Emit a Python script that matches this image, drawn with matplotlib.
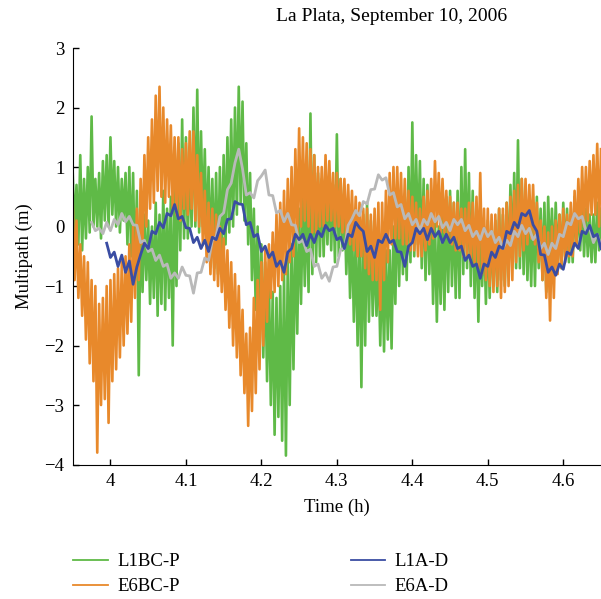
import numpy as np
import matplotlib
matplotlib.use("Agg")
import matplotlib.pyplot as plt
from matplotlib.lines import Line2D

plt.rcParams["font.family"] = ["Liberation Serif", "DejaVu Serif"]

# sample times (h) for the wide-band pseudorange series, 0.0025 h apart
t_band = np.linspace(3.95, 4.65, 281)

# L1BC-P multipath (m) (4 samples per 0.01 h)
l1bc_p = [
    0.9, -0.1, 0.7, -0.3,
    1.2, -0.4, 0.8, -0.2,
    1.0, -0.1, 1.85, 0.0,
    0.8, 0.0, 0.9, -0.2,
    1.1, 0.1, 1.2, 0.0,
    1.5, 0.2, 1.1, 0.0,
    1.0, -0.1, 0.8, 0.1,
    0.9, -0.3, 1.0, -0.5,
    0.9, -0.9, 0.6, -2.5,
    0.4, -1.1, 0.2, -0.9,
    0.1, -1.3, 0.0, -1.2,
    0.4, -1.5, 0.2, -1.3,
    0.6, -1.4, 0.3, -1.2,
    0.5, -2.0, 0.8, -1.0,
    1.4, -0.4, 1.8, -0.2,
    1.5, -0.2, 1.2, 0.0,
    2.0, 0.0, 2.3, -0.1,
    1.6, 0.0, 1.3, -0.3,
    1.0, -0.5, 0.8, -0.7,
    0.9, -0.8, 1.0, -0.6,
    1.2, -0.3, 1.5, -0.1,
    1.8, 0.0, 2.0, 0.2,
    2.35, 0.4, 2.1, 0.1,
    1.4, -0.3, 0.9, -0.9,
    0.3, -1.4, 0.0, -1.9,
    -0.3, -2.2, -0.6, -2.6,
    -0.9, -3.0, -1.1, -3.5,
    -1.2, -3.2, -1.0, -3.6,
    -0.8, -3.85, -0.5, -3.0,
    -0.3, -2.4, 0.0, -1.8,
    0.3, -1.3, 0.5, -1.0,
    0.5, -1.1, 1.9, -0.8,
    1.2, -0.6, 0.9, -0.5,
    0.8, -0.5, 0.7, -0.3,
    0.9, -0.4, 0.7, -0.6,
    1.55, -0.5, 0.8, -0.4,
    0.6, -0.8, 0.3, -1.2,
    0.1, -1.6, -0.2, -2.0,
    -0.1, -2.7, 0.2, -2.0,
    0.4, -1.6, 0.1, -1.5,
    -0.3, -1.5, -0.4, -2.0,
    -0.5, -2.1, -0.4, -1.9,
    -0.4, -2.05, 0.0, -1.3,
    0.6, -1.0, 0.4, -0.8,
    0.5, -0.9, 1.0, -0.6,
    1.75, -0.5, 1.2, -0.3,
    1.1, -0.7, 0.8, -0.9,
    0.7, -0.8, 0.4, -1.3,
    0.1, -1.6, 0.0, -1.3,
    0.2, -1.4, 0.5, -1.1,
    0.6, -1.0, 0.4, -1.2,
    0.6, -1.2, 1.0, -0.8,
    1.3, -0.7, 0.9, -1.0,
    0.6, -1.2, 0.2, -1.6,
    0.1, -1.0, 0.0, -1.3,
    0.1, -1.2, 0.0, -1.0,
    0.1, -1.1, 0.3, -0.9,
    0.2, -1.0, 0.4, -0.8,
    0.7, -0.6, 0.9, -0.7,
    1.45, -0.7, 0.8, -0.8,
    0.5, -0.9, 0.3, -1.0,
    0.4, -1.0, 0.5, -0.7,
    0.3, -0.9, 0.4, -1.1,
    0.5, -0.6, 0.3, -0.8,
    0.4, -0.6, 0.2, -0.7,
    0.4, -0.5, 0.3, -0.6,
    0.2, -0.6, 0.5, -0.3,
    0.4, -0.4, 0.6, -0.5,
    0.3, -0.5, 0.2, -0.6,
    0.2, -0.6, 0.4, -0.4,
    0.3,
]

# E6BC-P multipath (m)
e6bc_p = [
    0.4, -0.9, 0.1, -1.2,
    -0.3, -1.5, -0.5, -1.9,
    -0.6, -2.3, -0.9, -2.6,
    -1.0, -3.8, -1.3, -3.0,
    -1.2, -2.9, -1.0, -3.3,
    -0.9, -2.6, -0.8, -2.4,
    -0.7, -2.2, -0.6, -2.0,
    -0.5, -1.8, -0.3, -1.6,
    0.0, -1.2, 0.3, -0.9,
    0.8, -0.3, 1.2, 0.0,
    1.5, 0.3, 1.8, 0.4,
    2.2, 0.6, 2.35, 0.5,
    2.0, 0.4, 1.8, 0.5,
    1.7, 0.3, 1.5, 0.2,
    1.5, 0.1, 1.3, 0.3,
    1.4, 0.2, 1.6, 0.3,
    1.6, 0.1, 1.2, 0.0,
    0.9, -0.3, 0.6, -0.6,
    0.4, -0.8, 0.3, -0.9,
    0.2, -1.0, 0.0, -1.1,
    -0.2, -1.4, -0.4, -1.7,
    -0.6, -2.0, -0.8, -2.2,
    -1.0, -2.5, -1.4, -2.8,
    -1.8, -3.35, -1.7, -3.1,
    -1.2, -2.8, -0.9, -2.4,
    -0.6, -2.0, -0.4, -1.6,
    -0.3, -1.2, -0.1, -1.1,
    0.2, -1.0, 0.4, -0.9,
    0.6, -0.8, 0.8, -0.6,
    1.0, -0.5, 1.3, -0.2,
    1.65, 0.0, 1.5, 0.1,
    1.4, 0.0, 1.3, -0.1,
    1.2, -0.1, 1.0, 0.0,
    1.0, 0.0, 1.2, 0.1,
    1.1, 0.1, 0.9, 0.0,
    0.9, 0.0, 0.8, -0.1,
    0.8, -0.2, 0.7, -0.3,
    0.6, -0.4, 0.5, -0.5,
    0.4, -0.5, 0.3, -0.7,
    0.3, -0.8, 0.2, -0.9,
    0.3, -0.9, 0.4, -1.4,
    0.4, -0.9, 0.6, -0.6,
    0.9, -0.3, 1.0, -0.2,
    1.0, -0.2, 0.9, -0.3,
    0.8, -0.3, 0.6, -0.4,
    0.5, -0.4, 0.4, -0.5,
    0.3, -0.5, 0.5, -0.4,
    0.6, -0.3, 0.8, -0.2,
    1.1, 0.0, 0.9, -0.1,
    0.8, -0.1, 0.6, -0.2,
    0.5, -0.3, 0.4, -0.4,
    0.4, -0.4, 0.3, -0.5,
    0.3, -0.5, 0.4, -0.6,
    0.4, -0.6, 0.5, -0.7,
    0.9, -0.8, 0.3, -0.9,
    0.3, -1.0, 0.2, -1.1,
    0.2, -1.0, 0.3, -1.2,
    0.3, -1.1, 0.4, -1.0,
    0.5, -0.9, 0.6, -0.6,
    0.7, -0.5, 0.8, -0.4,
    0.8, -0.3, 0.7, -0.2,
    0.7, -0.3, 0.4, -0.6,
    0.1, -0.9, 0.0, -1.2,
    -0.1, -1.58, 0.0, -1.2,
    0.1, -0.8, 0.2, -0.7,
    0.3, -0.6, 0.2, -0.5,
    0.4, -0.5, 0.6, -0.3,
    0.8, -0.1, 1.0, 0.0,
    1.0, 0.1, 1.1, 0.2,
    1.2, 0.2, 1.39, 0.0,
    1.3,
]

# carrier-phase series, 0.005 h apart
t_l1a = np.linspace(3.995, 4.65, 132)
l1a_d = [
    -0.28, -0.52, -0.43, -0.67, -0.48, -0.77, -0.58, -0.97, -0.68, -0.47,
    -0.28, -0.37, -0.08, -0.12, 0.07, -0.02, 0.22, 0.18, 0.37, 0.13,
    0.17, -0.02, -0.03, -0.27, -0.18, -0.37, -0.23, -0.42, -0.18, -0.22,
    -0.03, -0.12, 0.12, 0.13, 0.42, 0.38, 0.37, 0.03, 0.07, -0.17,
    -0.13, -0.42, -0.33, -0.52, -0.43, -0.67, -0.58, -0.77, -0.43, -0.37,
    -0.13, -0.22, -0.13, -0.32, -0.13, -0.27, -0.08, -0.17, 0.02, -0.07,
    -0.03, -0.22, -0.18, -0.37, -0.13, -0.17, 0.07, -0.02, -0.08, -0.42,
    -0.33, -0.52, -0.23, -0.27, -0.13, -0.27, -0.23, -0.42, -0.43, -0.67,
    -0.33, -0.27, -0.03, -0.12, -0.03, -0.22, -0.03, -0.17, -0.08, -0.27,
    -0.13, -0.27, -0.18, -0.37, -0.33, -0.57, -0.48, -0.67, -0.63, -0.87,
    -0.63, -0.67, -0.43, -0.52, -0.33, -0.37, -0.08, -0.12, 0.07, -0.02,
    0.22, 0.18, 0.27, 0.03, -0.08, -0.47, -0.48, -0.77, -0.68, -0.82,
    -0.63, -0.72, -0.43, -0.47, -0.28, -0.37, -0.08, -0.12, 0.02, -0.17,
    -0.13, -0.37,
]

t_e6a = np.linspace(3.975, 4.65, 136)
e6a_d = [
    0.07, -0.07, -0.03, -0.12, 0.07, -0.07, 0.12, 0.03, 0.22, 0.08,
    0.17, 0.03, 0.02, -0.27, -0.23, -0.42, -0.38, -0.57, -0.48, -0.67,
    -0.63, -0.87, -0.78, -0.87, -0.68, -0.82, -0.83, -1.12, -0.78, -0.77,
    -0.53, -0.57, -0.23, -0.17, 0.17, 0.23, 0.62, 0.73, 1.07, 1.3,
    0.97, 0.53, 0.57, 0.48, 0.77, 0.85, 0.95, 0.53, 0.52, 0.23,
    0.27, 0.08, 0.22, 0.03, 0.02, -0.27, -0.23, -0.42, -0.38, -0.67,
    -0.63, -0.87, -0.78, -0.92, -0.68, -0.67, -0.38, -0.37, 0.02, 0.13,
    0.27, 0.18, 0.42, 0.38, 0.62, 0.63, 0.87, 0.78, 0.82, 0.53,
    0.57, 0.33, 0.37, 0.13, 0.22, 0.03, 0.12, -0.07, 0.12, 0.03,
    0.22, 0.08, 0.17, -0.02, 0.07, -0.07, 0.12, 0.03, 0.12, -0.07,
    0.02, -0.17, -0.08, -0.22, -0.03, -0.17, -0.08, -0.27, -0.18, -0.37,
    -0.23, -0.32, -0.08, -0.17, 0.02, -0.12, -0.03, -0.22, -0.13, -0.37,
    -0.28, -0.47, -0.28, -0.37, -0.13, -0.17, 0.07, 0.03, 0.22, 0.13,
    0.17, -0.07, -0.03, -0.27, -0.13, -0.32,
]

labels = ["L1BC-P", "E6BC-P", "L1A-D", "E6A-D"]
colors = ["#5fba47", "#e8892b", "#3a4da3", "#b9b9b9"]

fig = plt.figure(figsize=(6.01, 5.99), dpi=100)
ax = fig.add_axes([0.121, 0.2245, 0.879, 0.6953])

ax.plot(t_band, l1bc_p, color=colors[0], lw=1.9)
ax.plot(t_band, e6bc_p, color=colors[1], lw=1.9)
ax.plot(t_e6a, e6a_d, color=colors[3], lw=2.0)
ax.plot(t_l1a, l1a_d, color=colors[2], lw=2.0)

ax.set_xlim(3.95, 4.65)
ax.set_ylim(-4, 3)
ax.set_xticks([4, 4.1, 4.2, 4.3, 4.4, 4.5, 4.6])
ax.set_xticklabels(["4", "4.1", "4.2", "4.3", "4.4", "4.5", "4.6"])
ax.set_yticks(range(-4, 4))
ax.spines["top"].set_visible(False)
ax.spines["right"].set_visible(False)
ax.tick_params(direction="in", length=4, width=1, labelsize=13.5, pad=6)
ax.set_xlabel("Time (h)", fontsize=13.5, labelpad=6)
ax.set_ylabel("Multipath (m)", fontsize=13.5, labelpad=8)

fig.text(0.651, 0.972, "La Plata, September 10, 2006", ha="center", va="center", fontsize=14)

handles = [Line2D([], [], color=c, lw=1.3) for c in colors]
fig.legend(handles, labels, ncol=2, loc="upper left", bbox_to_anchor=(0.094, 0.105),
           frameon=False, fontsize=13.5, handlelength=1.85, handletextpad=0.5,
           columnspacing=9.1, labelspacing=0.42)

fig.savefig("out.png", dpi=100)
